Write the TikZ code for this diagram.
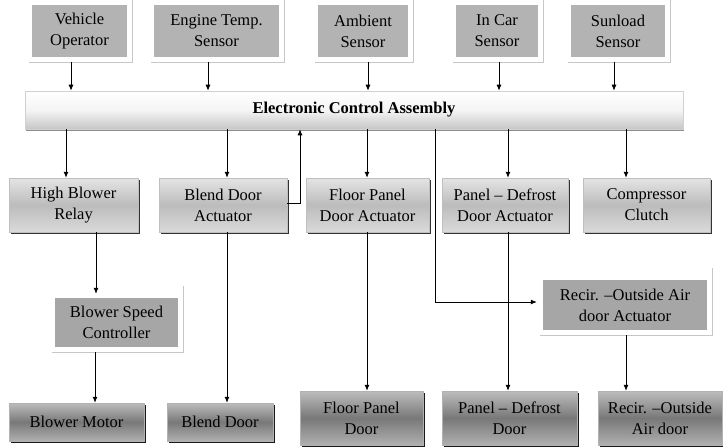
\documentclass[tikz,border=0pt]{standalone}
\IfFileExists{tgtermes.sty}{\usepackage[T1]{fontenc}\usepackage{tgtermes}}{\usepackage{fontspec}\setmainfont{Liberation Serif}}
\usetikzlibrary{shadows,calc,backgrounds,arrows.meta}
\definecolor{sensorgray}{HTML}{B3B3B3}
\definecolor{darkflat}{HTML}{A6A6A6}
\definecolor{midtop}{HTML}{E4E4E4}
\definecolor{midmid}{HTML}{BCBCBC}
\definecolor{midbot}{HTML}{DADADA}
\definecolor{bottop}{HTML}{BDBDBD}
\definecolor{botmid}{HTML}{787878}
\definecolor{botbot}{HTML}{B0B0B0}
\newcommand{\lframe}[1]{\draw[framec] ($(#1.south west)+(-3,5)$) -- ($(#1.south east)+(5,5)$) -- ($(#1.north east)+(5,-12)$);}
\begin{document}
\begin{tikzpicture}[x=1pt,y=-1pt,
  base/.style={rectangle, align=center, inner sep=0pt, font=\rmfamily\fontsize{16.5}{21}\selectfont, text=black},
  sensor/.style={base, fill=sensorgray},
  flatdark/.style={base, fill=darkflat},
  framec/.style={draw=black!22, line width=0.9pt},
  midbox/.style={base, draw=black!25, line width=0.5pt, top color=midtop, bottom color=midbot, middle color=midmid,
     drop shadow={shadow xshift=2pt, shadow yshift=-2pt, fill=black!80, opacity=1}},
  botbox/.style={base, draw=black!30, line width=0.5pt, top color=bottop, bottom color=botbot, middle color=botmid,
     drop shadow={shadow xshift=2pt, shadow yshift=-2pt, fill=black!90, opacity=1}},
  ecabox/.style={base, draw=black!18, line width=0.6pt, top color=white, bottom color=black!22, middle color=white!96!black,
     font=\rmfamily\fontsize{16.5}{21}\selectfont\bfseries,
     drop shadow={shadow xshift=1pt, shadow yshift=-1.5pt, fill=black!45, opacity=1}},
  arr/.style={-{Latex[length=6pt,width=5pt]}, line width=0.8pt},
  ln/.style={line width=0.8pt}
]
\useasboundingbox (0,0) rectangle (723,447);

% top sensors
\node[sensor, minimum width=95, minimum height=52] (veh) at (79.5,31) {Vehicle\\Operator};
\node[sensor, minimum width=125, minimum height=52] (eng) at (216.5,31) {Engine Temp.\\Sensor};
\node[sensor, minimum width=90, minimum height=52] (amb) at (363,31) {Ambient\\Sensor};
\node[sensor, minimum width=82, minimum height=52] (incar) at (497,31) {In Car\\Sensor};
\node[sensor, minimum width=94, minimum height=52] (sun) at (618,31) {Sunload\\Sensor};

% ECA
\node[ecabox, minimum width=658, minimum height=38] (eca) at (354,110) {\raisebox{3pt}{Electronic Control Assembly}};

% middle row
\node[midbox, minimum width=129, minimum height=54] (hbr) at (73.5,205) {High Blower\\Relay};
\node[midbox, minimum width=128, minimum height=54] (bda) at (223,205) {Blend Door\\Actuator};
\node[midbox, minimum width=123, minimum height=54] (fpa) at (367.5,205) {Floor Panel\\Door Actuator};
\node[midbox, minimum width=126, minimum height=54] (pda) at (505,205) {Panel -- Defrost\\Door Actuator};
\node[midbox, minimum width=127, minimum height=54] (cc) at (646.5,205) {Compressor\\Clutch};

% flat dark boxes
\node[flatdark, minimum width=164, minimum height=50] (ra) at (625,305) {Recir. --Outside Air\\door Actuator};
\node[flatdark, minimum width=123, minimum height=49] (bsc) at (116.5,322.5) {Blower Speed\\Controller};

% bottom row
\node[botbox, minimum width=135, minimum height=38] (bm) at (76.5,422) {Blower Motor};
\node[botbox, minimum width=106, minimum height=38] (bd) at (220,422) {Blend Door};
\node[botbox, minimum width=123, minimum height=54] (fpd) at (361.5,418) {Floor Panel\\Door};
\node[botbox, minimum width=135, minimum height=54] (pdd) at (509.5,418) {Panel -- Defrost\\Door};
\node[botbox, minimum width=124, minimum height=54] (rod) at (660,418) {Recir. --Outside\\Air door};

\begin{scope}[on background layer]
\lframe{veh}\lframe{eng}\lframe{amb}\lframe{incar}\lframe{sun}
\lframe{ra}\lframe{bsc}
\end{scope}

% sensor arrows
\draw[arr] (veh.south -| 71,0) ++(0,5) -- (eca.north -| 71,0);
\draw[arr] (eng.south -| 208,0) ++(0,5) -- (eca.north -| 208,0);
\draw[arr] (amb.south -| 368,0) ++(0,5) -- (eca.north -| 368,0);
\draw[arr] (incar.south -| 499,0) ++(0,5) -- (eca.north -| 499,0);
\draw[arr] (sun.south -| 614,0) ++(0,5) -- (eca.north -| 614,0);

% ECA to actuators
\draw[arr] (eca.south -| 66,0) -- (hbr.north -| 66,0);
\draw[arr] (eca.south -| 227,0) -- (bda.north -| 227,0);
\draw[arr] (eca.south -| 367,0) -- (fpa.north -| 367,0);
\draw[arr] (eca.south -| 508,0) -- (pda.north -| 508,0);
\draw[arr] (eca.south -| 626,0) -- (cc.north -| 626,0);

% feedback and recirculation
\draw[arr] (bda.east |- 0,203) -| (eca.south -| 300,0);
\draw[arr] (eca.south -| 435,0) |- ($(ra.west)+(-6,-3)$);

% actuators to devices
\draw[arr] (hbr.south -| 96,0) -- ($(bsc.north -| 96,0)+(0,-4)$);
\draw[arr] (bsc.south -| 95,0) ++(0,5) -- (bm.north -| 95,0);
\draw[arr] (bda.south -| 227,0) -- (bd.north -| 227,0);
\draw[arr] (fpa.south -| 367,0) -- (fpd.north -| 367,0);
\draw[arr] (pda.south -| 508,0) -- (pdd.north -| 508,0);
\draw[arr] (ra.south -| 626,0) ++(0,5) -- (rod.north -| 626,0);
\end{tikzpicture}
\end{document}
